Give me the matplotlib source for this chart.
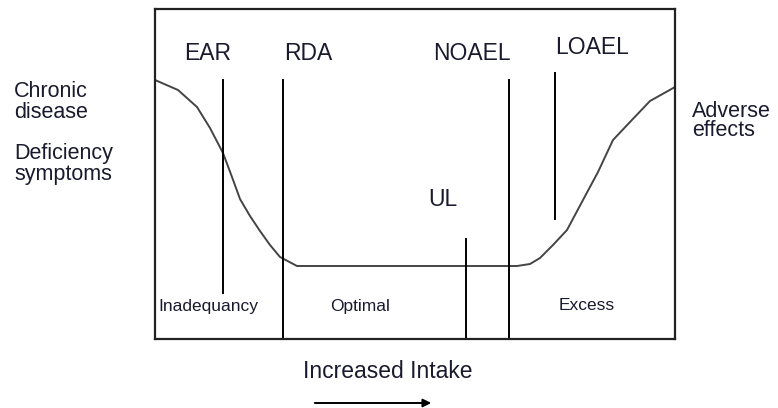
import matplotlib.pyplot as plt

# schematic drawn in pixel-like units of the original figure
curve_x = [155, 178, 197, 210, 223, 232, 240, 250, 260, 270, 280, 297,
           517, 530, 540, 553, 567, 583, 598, 613, 630, 650, 675]
curve_y = [80, 90, 107, 128, 153, 177, 199, 216, 231, 245, 257, 266,
           266, 264, 258, 245, 230, 200, 172, 140, 122, 101, 87]

marker_names = ['EAR', 'RDA', 'UL', 'NOAEL', 'LOAEL']
marker_x = [223, 283, 466, 509, 555]
marker_top = [80, 80, 239, 80, 73]
marker_bottom = [293, 339, 339, 339, 219]
label_x = [208, 308, 443, 472, 592]
label_y = [53, 53, 199, 53, 47]

zones = ['Inadequancy', 'Optimal', 'Excess']
zone_x = [208, 360, 587]

plt.rcParams['font.family'] = ['Liberation Sans', 'DejaVu Sans']

fig = plt.figure(figsize=(7.78, 4.08), dpi=100)
ax = fig.add_axes([155 / 778, 1 - 339 / 408, 520 / 778, 330 / 408])
ax.set_xlim(155, 675)
ax.set_ylim(339, 9)
ax.set_xticks([])
ax.set_yticks([])
for s in ax.spines.values():
    s.set_linewidth(1.6)
    s.set_color('#222222')

ax.plot(curve_x, curve_y, color='#444444', lw=1.4)

for i in range(len(marker_names)):
    ax.plot([marker_x[i], marker_x[i]], [marker_top[i], marker_bottom[i]],
            color='black', lw=1.4)
    ax.text(label_x[i], label_y[i], marker_names[i], fontsize=16.5,
            ha='center', va='center', color='#1a1a2e')

for z, zx in zip(zones, zone_x):
    ax.text(zx, 306, z, fontsize=12.5, ha='center', va='center', color='#1a1a2e')

ax.text(14, 102, 'Chronic\ndisease', fontsize=15.5, ha='left', va='center',
        linespacing=1.0, clip_on=False, color='#1a1a2e')
ax.text(14, 164, 'Deficiency\nsymptoms', fontsize=15.5, ha='left', va='center',
        linespacing=1.05, clip_on=False, color='#1a1a2e')
ax.text(692, 121, 'Adverse\neffects', fontsize=15.5, ha='left', va='center',
        linespacing=0.85, clip_on=False, color='#1a1a2e')
ax.text(388, 372, 'Increased Intake', fontsize=16.5, ha='center', va='center',
        clip_on=False, color='#1a1a2e')

ax.annotate('', xy=(434, 403), xytext=(312, 403), annotation_clip=False,
            arrowprops=dict(arrowstyle='-|>', color='black', lw=1.4,
                            mutation_scale=12))

fig.savefig('out.png', dpi=100)
